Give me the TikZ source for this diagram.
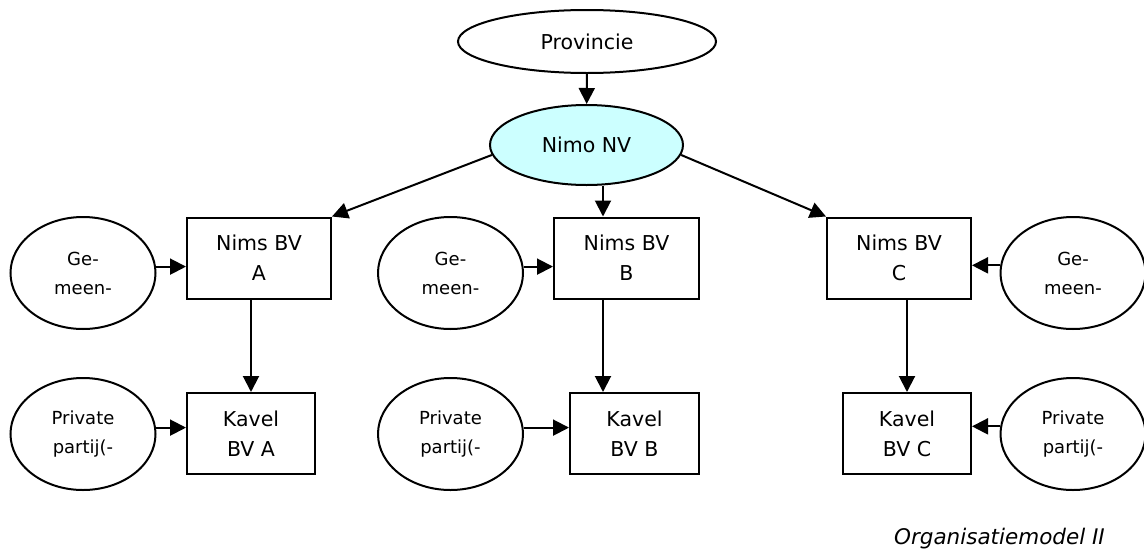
\documentclass[tikz,border=0pt]{standalone}
\usepackage{fontspec}
\setmainfont{DejaVu Sans}
\usetikzlibrary{shapes.geometric,arrows.meta}
\definecolor{nimofill}{RGB}{204,255,255}
\tikzset{
  ln/.style={line width=2pt},
  arr/.style={ln,-{Triangle[length=16pt,width=16pt]}},
  oval/.style={ellipse,draw,ln,inner sep=0pt,align=center},
  bigtxt/.style={font=\fontsize{20.5}{30}\selectfont},
  smalltxt/.style={font=\fontsize{18}{29}\selectfont},
  unit/.style={rectangle,draw,ln,inner sep=0pt,align=center,minimum height=81pt,bigtxt},
  side/.style={oval,minimum width=145pt,minimum height=112pt,smalltxt}
}
\begin{document}
\begin{tikzpicture}[x=1pt,y=-1pt]
\useasboundingbox (0,0) rectangle (1144,549);

% top of the hierarchy
\node[oval,bigtxt,minimum width=258pt,minimum height=63pt] (prov) at (587,41.5) {Provincie};
\node[oval,bigtxt,fill=nimofill,minimum width=193pt,minimum height=80pt] (nimo) at (586.5,145) {Nimo NV};

% Nims companies
\node[unit,minimum width=144pt] (nimsA) at (259,258) {Nims BV\\A};
\node[unit,minimum width=145pt] (nimsB) at (626.5,258) {Nims BV\\B};
\node[unit,minimum width=144pt] (nimsC) at (899,258) {Nims BV\\C};

% Kavel companies
\node[unit,minimum width=128pt] (kavA) at (251,433.5) {Kavel\\BV A};
\node[unit,minimum width=129pt] (kavB) at (634.5,433.5) {Kavel\\BV B};
\node[unit,minimum width=128pt] (kavC) at (907,433.5) {Kavel\\BV C};

% municipalities
\node[side] (gemA) at (83,273) {Ge-\\meen-};
\node[side] (gemB) at (450.5,273) {Ge-\\meen-};
\node[side] (gemC) at (1073,273) {Ge-\\meen-};

% private parties
\node[side] (prA) at (83,434) {Private\\partij(-};
\node[side] (prB) at (450.5,434) {Private\\partij(-};
\node[side] (prC) at (1073,434) {Private\\partij(-};

\coordinate (colB) at (603,0);

% connectors
\draw[arr] (prov) -- (nimo);
\draw[arr] (nimo.186) -- (nimsA.north east);
\draw[arr] (nimo.south -| colB) -- (nimsB.north -| colB);
\draw[arr] (nimo.354) -- (nimsC.north west);

\draw[arr] (nimsA.south -| kavA.north) -- (kavA.north);
\draw[arr] (nimsB.south -| colB) -- (kavB.north -| colB);
\draw[arr] (nimsC.south -| kavC.north) -- (kavC.north);

\draw[arr] (gemA.5.6) -- (gemA.5.6 -| nimsA.west);
\draw[arr] (gemB.5.6) -- (gemB.5.6 -| nimsB.west);
\draw[arr] (gemC.174.4) -- (gemC.174.4 -| nimsC.east);

\draw[arr] (prA.5.6) -- (prA.5.6 -| kavA.west);
\draw[arr] (prB.5.6) -- (prB.5.6 -| kavB.west);
\draw[arr] (prC.174.4) -- (prC.174.4 -| kavC.east);

% caption
\node[anchor=base east,inner sep=0pt,font=\fontsize{21.5}{24}\selectfont\itshape] (cap) at (1105,544) {Organisatiemodel II};
\end{tikzpicture}
\end{document}
